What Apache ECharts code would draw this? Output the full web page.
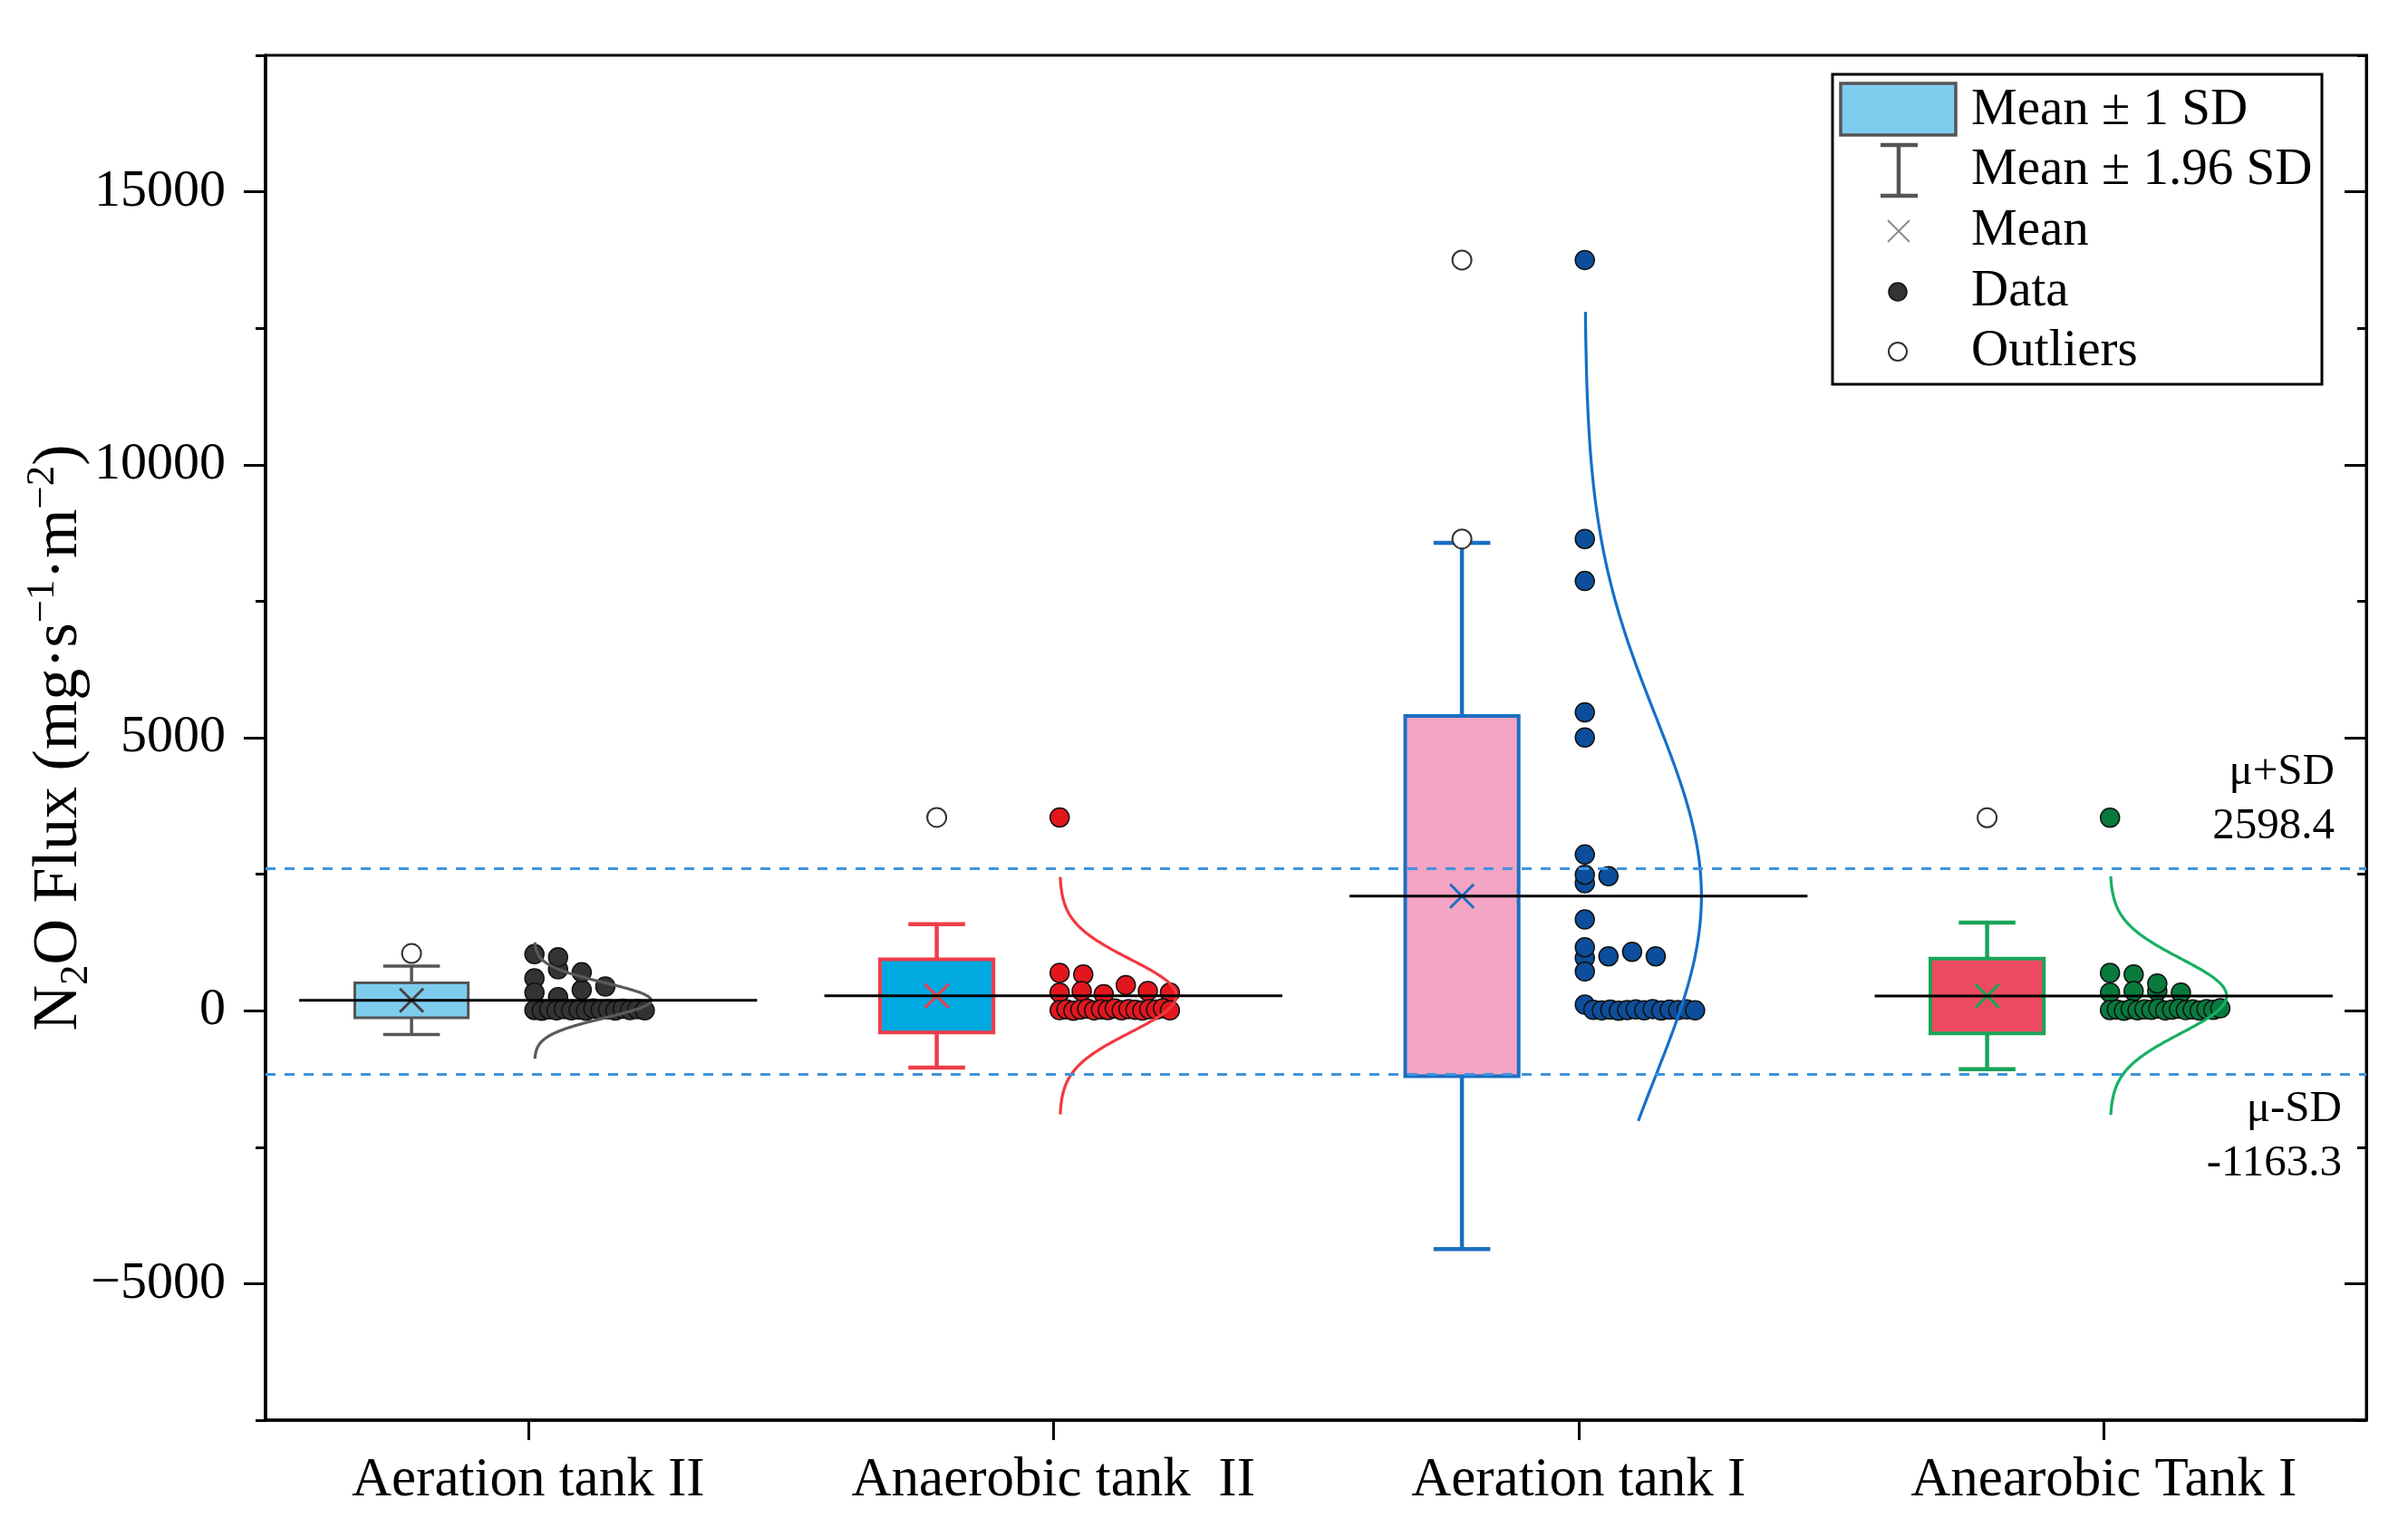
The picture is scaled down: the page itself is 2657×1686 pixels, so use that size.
<!DOCTYPE html>
<html><head><meta charset="utf-8">
<script src="https://cdn.jsdelivr.net/npm/echarts@6/dist/echarts.min.js"></script>
<style>html,body{margin:0;padding:0;background:#fff}#c{width:2657px;height:1686px}</style>
</head><body><div id="c"></div>
<script>
// ---------------- data ----------------
const categories = ['Aeration tank II', 'Anaerobic tank  II', 'Aeration tank I', 'Anearobic Tank I'];
const means = [190, 272, 2100, 270];
const sds = [320, 670, 3300, 685];
const curveLow = [-880, -1900, -2020, -1910];
const curveHigh = [1250, 2450, 12800, 2460];
const outliers1 = [1048];
const outliers2 = [3540];
const outliers3 = [13750, 8640];
const outliers4 = [3535];
const data1 = [592, 332, 249, 1035, 758, 380, 703, 443, 980,
  12, 0, 25, 5, 30, 8, 18, 0, 40, 15, 22, 3, 35, 10, 28, 6];
const data2 = [3540, 692, 332, 664, 360, 304, 470, 360, 332,
  10, 25, 0, 18, 35, 5, 22, 12, 40, 8, 30, 15, 2, 28, 20, 45, 6];
const data3 = [13750, 8640, 7870, 5465, 5003, 2861, 2335, 2463, 2490, 1671,
  968, 719, 996, 1162, 1079, 996,
  111, 15, 5, 20, 0, 12, 25, 8, 30, 3, 18, 10, 22, 6];
const data4 = [3535, 692, 332, 664, 360, 360, 498, 332,
  12, 20, 0, 30, 8, 25, 15, 40, 5, 18, 35, 10, 22, 2, 28, 14, 45];
const sdLines = [2598.4, -1163.3];
const yTickMajor = [-5000, 0, 5000, 10000, 15000];

// ---------------- styles ----------------
const boxFill = ['#7ecdef', '#00a9e0', '#f4a4c4', '#ee4a5f'];
const edgeColor = ['#555555', '#ef3d48', '#1a6fc2', '#19a45a'];
const meanColor = ['#444444', '#ef3d48', '#1a6fc2', '#19a45a'];
const dotColor = ['#333333', '#e3161e', '#0c4e9b', '#087a3e'];
const curveColor = ['#5a5a5a', '#f0393f', '#1570c9', '#15b063'];
const FONT = 'Liberation Serif';

// layout constants (category-band units)
const BOX_OFFSET = -0.222, BOX_WIDTH = 0.216, CAP_WIDTH = 0.108;
const MEAN_L = -0.436, MEAN_R = 0.436;
const CURVE_BASE = 0.012, CURVE_AMP = 0.222;

const allData = [data1, data2, data3, data4];
const allOut = [outliers1, outliers2, outliers3, outliers4];

function layoutOffsets(values) {
  const BIN = 330, START = 0.012, SPAN = 0.21, STEP = 0.045;
  const bins = {};
  values.forEach((v, k) => { const b = Math.round(v / BIN); (bins[b] = bins[b] || []).push(k); });
  const off = new Array(values.length);
  Object.keys(bins).forEach(key => {
    const idx = bins[key]; const n = idx.length;
    const step = n > 1 ? Math.min(STEP, SPAN / (n - 1)) : 0;
    idx.forEach((k, j) => { off[k] = START + j * step; });
  });
  return off;
}

const pointData = [];
allData.forEach((arr, i) => {
  const off = layoutOffsets(arr);
  arr.forEach((v, k) => pointData.push([i, v, off[k]]));
});
const outlierData = [];
allOut.forEach((arr, i) => arr.forEach(v => outlierData.push([i, v])));
const boxData = means.map((m, i) => [i, m, sds[i]]);
const curveData = means.map((m, i) => [i, m, sds[i], curveLow[i], curveHigh[i]]);
const meanData = means.map((m, i) => [i, m]);

const chart = echarts.init(document.getElementById('c'), null, { renderer: 'canvas' });

const yBase = { type: 'value', min: -7500, max: 17500, interval: 2500, splitLine: { show: false } };

const option = {
  backgroundColor: '#fff',
  animation: false,
  grid: { left: 293, right: 46, top: 61, bottom: 119, show: true, borderColor: '#000', borderWidth: 3, backgroundColor: 'transparent' },
  xAxis: [{
    type: 'category', data: categories, boundaryGap: true, position: 'bottom',
    axisLine: { show: true, onZero: false, lineStyle: { color: '#000', width: 3.5 } },
    axisTick: { show: true, interval: 0, alignWithLabel: true, length: 22, lineStyle: { color: '#000', width: 3 } },
    axisLabel: { interval: 0, hideOverlap: false, fontFamily: FONT, fontSize: 61, color: '#000', margin: 36 },
    splitLine: { show: false }
  }],
  yAxis: [
    Object.assign({}, yBase, {
      position: 'left',
      axisLine: { show: true, onZero: false, lineStyle: { color: '#000', width: 3.5 } },
      axisTick: { show: true, length: 11, lineStyle: { color: '#000', width: 3 } },
      axisLabel: { fontFamily: FONT, fontSize: 58, color: '#000', margin: 44,
        formatter: v => (v % 5000 === 0) ? (v < 0 ? '\u2212' + (-v) : String(v)) : '' },
      name: '{a|N}{b|2}{a|O Flux (mg\u00b7s}{c|\u22121}{a|\u00b7m}{c|\u22122}{a|)}',
      nameLocation: 'middle', nameGap: 186, nameRotate: 90, nameMoveOverlap: false,
      nameTextStyle: {
        fontFamily: FONT, color: '#000',
        rich: {
          a: { fontFamily: FONT, fontSize: 70, lineHeight: 82, color: '#000', verticalAlign: 'middle' },
          b: { fontFamily: FONT, fontSize: 45, lineHeight: 44, color: '#000', verticalAlign: 'bottom' },
          c: { fontFamily: FONT, fontSize: 45, lineHeight: 44, color: '#000', verticalAlign: 'top' }
        }
      }
    }),
    Object.assign({}, yBase, {
      position: 'left', axisLine: { show: false },
      axisTick: { show: true, length: 24, customValues: yTickMajor, lineStyle: { color: '#000', width: 3 } },
      axisLabel: { show: false }
    }),
    Object.assign({}, yBase, {
      position: 'right',
      axisLine: { show: true, onZero: false, lineStyle: { color: '#000', width: 3 } },
      axisTick: { show: true, inside: true, length: 10, lineStyle: { color: '#000', width: 3 } },
      axisLabel: { show: false }
    }),
    Object.assign({}, yBase, {
      position: 'right', axisLine: { show: false },
      axisTick: { show: true, inside: true, length: 24, customValues: yTickMajor, lineStyle: { color: '#000', width: 3 } },
      axisLabel: { show: false }
    })
  ],
  series: [
    {
      name: 'box', type: 'custom', z: 2, xAxisIndex: 0, yAxisIndex: 0,
      encode: { x: 0, y: 1 }, data: boxData, silent: true,
      renderItem(params, api) {
        const i = api.value(0), m = api.value(1), s = api.value(2);
        const bw = api.size([1, 0])[0];
        const cx = api.coord([i, m])[0] + BOX_OFFSET * bw;
        const half = BOX_WIDTH * bw / 2, cap = CAP_WIDTH * bw / 2;
        const y = v => api.coord([i, v])[1];
        const yT = y(m + s), yB = y(m - s), wT = y(m + 1.96 * s), wB = y(m - 1.96 * s), ym = y(m);
        const col = edgeColor[i];
        const lw = i === 0 ? 3.5 : 4.5;
        const ln = (x1, y1, x2, y2, w, c) => ({ type: 'line', shape: { x1, y1, x2, y2 }, style: { stroke: c || col, lineWidth: w } });
        const xs = 13;
        return { type: 'group', children: [
          ln(cx, wT, cx, wB, lw),
          ln(cx - cap, wT, cx + cap, wT, lw),
          ln(cx - cap, wB, cx + cap, wB, lw),
          { type: 'rect', shape: { x: cx - half, y: yT, width: 2 * half, height: yB - yT }, style: { fill: boxFill[i], stroke: col, lineWidth: i === 0 ? 3 : 4 } },
          ln(cx - xs, ym - xs, cx + xs, ym + xs, 3, meanColor[i]),
          ln(cx - xs, ym + xs, cx + xs, ym - xs, 3, meanColor[i])
        ] };
      }
    },
    {
      name: 'data', type: 'custom', z: 3, xAxisIndex: 0, yAxisIndex: 0,
      encode: { x: 0, y: 1 }, data: pointData, silent: true,
      renderItem(params, api) {
        const i = api.value(0), v = api.value(1), o = api.value(2);
        const bw = api.size([1, 0])[0];
        const p = api.coord([i, v]);
        return { type: 'circle', shape: { cx: p[0] + o * bw, cy: p[1], r: 10.5 },
          style: { fill: dotColor[i], stroke: '#111', lineWidth: 1.5 } };
      }
    },
    {
      name: 'curve', type: 'custom', z: 4, xAxisIndex: 0, yAxisIndex: 0,
      encode: { x: 0, y: 1 }, data: curveData, silent: true,
      renderItem(params, api) {
        const i = api.value(0), m = api.value(1), s = api.value(2), lo = api.value(3), hi = api.value(4);
        const bw = api.size([1, 0])[0];
        const cx = api.coord([i, m])[0];
        const pts = [];
        const N = 200;
        for (let k = 0; k <= N; k++) {
          const v = lo + (hi - lo) * k / N;
          const z = (v - m) / s;
          const r = Math.exp(-0.5 * z * z);
          pts.push([cx + (CURVE_BASE + CURVE_AMP * r) * bw, api.coord([i, v])[1]]);
        }
        return { type: 'polyline', shape: { points: pts }, style: { stroke: curveColor[i], lineWidth: 3.2, fill: null } };
      }
    },
    {
      name: 'meanline', type: 'custom', z: 5, xAxisIndex: 0, yAxisIndex: 0,
      encode: { x: 0, y: 1 }, data: meanData, silent: true,
      renderItem(params, api) {
        const i = api.value(0), m = api.value(1);
        const bw = api.size([1, 0])[0];
        const p = api.coord([i, m]);
        return { type: 'line', shape: { x1: p[0] + MEAN_L * bw, y1: p[1], x2: p[0] + MEAN_R * bw, y2: p[1] },
          style: { stroke: '#000', lineWidth: 3 } };
      },
      markLine: {
        silent: true, symbol: ['none', 'none'], z: 6,
        lineStyle: { color: '#3f93de', type: [11, 10], width: 3 },
        label: { fontFamily: FONT, fontSize: 49, lineHeight: 60, color: '#000', align: 'right' },
        data: [
          { yAxis: sdLines[0], label: { position: 'insideEndTop', formatter: '\u03bc+SD\n' + sdLines[0], padding: [0, 30, 12, 0] } },
          { yAxis: sdLines[1], label: { position: 'insideEndBottom', formatter: '\u03bc-SD\n' + sdLines[1], padding: [4, 22, 0, 0] } }
        ]
      }
    },
    {
      name: 'outliers', type: 'custom', z: 7, xAxisIndex: 0, yAxisIndex: 0,
      encode: { x: 0, y: 1 }, data: outlierData, silent: true,
      renderItem(params, api) {
        const i = api.value(0), v = api.value(1);
        const bw = api.size([1, 0])[0];
        const p = api.coord([i, v]);
        return { type: 'circle', shape: { cx: p[0] + BOX_OFFSET * bw, cy: p[1], r: 10.5 },
          style: { fill: '#fff', stroke: '#333', lineWidth: 2 } };
      }
    }
  ],
  graphic: [
    { type: 'rect', z: 100, shape: { x: 2022, y: 82, width: 540, height: 342 }, style: { fill: '#fff', stroke: '#000', lineWidth: 3 } },
    { type: 'rect', z: 101, shape: { x: 2031, y: 92, width: 127, height: 57 }, style: { fill: '#7ecdef', stroke: '#555', lineWidth: 3.5 } },
    { type: 'line', z: 101, shape: { x1: 2095, y1: 160, x2: 2095, y2: 216 }, style: { stroke: '#555', lineWidth: 4.5 } },
    { type: 'line', z: 101, shape: { x1: 2075, y1: 160, x2: 2116, y2: 160 }, style: { stroke: '#555', lineWidth: 4.5 } },
    { type: 'line', z: 101, shape: { x1: 2075, y1: 216, x2: 2116, y2: 216 }, style: { stroke: '#555', lineWidth: 4.5 } },
    { type: 'line', z: 101, shape: { x1: 2083, y1: 243, x2: 2107, y2: 267 }, style: { stroke: '#888', lineWidth: 1.8 } },
    { type: 'line', z: 101, shape: { x1: 2083, y1: 267, x2: 2107, y2: 243 }, style: { stroke: '#888', lineWidth: 1.8 } },
    { type: 'circle', z: 101, shape: { cx: 2094, cy: 322, r: 10 }, style: { fill: '#333', stroke: '#111', lineWidth: 1.5 } },
    { type: 'circle', z: 101, shape: { cx: 2094, cy: 388, r: 10 }, style: { fill: '#fff', stroke: '#333', lineWidth: 2 } },
    { type: 'text', z: 101, x: 2175, y: 122, style: { text: 'Mean \u00b1 1 SD', fontFamily: FONT, fontSize: 57, fill: '#000', verticalAlign: 'middle' } },
    { type: 'text', z: 101, x: 2175, y: 188, style: { text: 'Mean \u00b1 1.96 SD', fontFamily: FONT, fontSize: 57, fill: '#000', verticalAlign: 'middle' } },
    { type: 'text', z: 101, x: 2175, y: 255, style: { text: 'Mean', fontFamily: FONT, fontSize: 57, fill: '#000', verticalAlign: 'middle' } },
    { type: 'text', z: 101, x: 2175, y: 322, style: { text: 'Data', fontFamily: FONT, fontSize: 57, fill: '#000', verticalAlign: 'middle' } },
    { type: 'text', z: 101, x: 2175, y: 388, style: { text: 'Outliers', fontFamily: FONT, fontSize: 57, fill: '#000', verticalAlign: 'middle' } }
  ]
};
chart.setOption(option);
</script>
</body></html>
